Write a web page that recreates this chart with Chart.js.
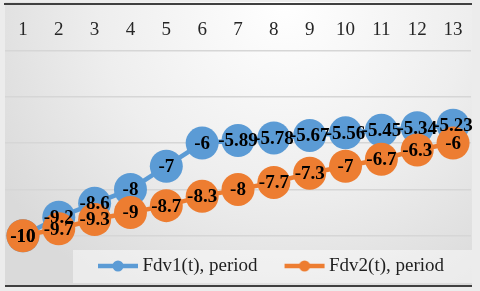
<!DOCTYPE html>
<html><head><meta charset="utf-8">
<script src="https://cdn.jsdelivr.net/npm/chart.js@4.4.0/dist/chart.umd.min.js"></script>
<style>html,body{margin:0;padding:0;background:#ececec;}#wrap{width:480px;height:291px;}</style>
</head><body><div id="wrap"><canvas id="c" width="480" height="291"></canvas></div>
<script>
const periods = ['1','2','3','4','5','6','7','8','9','10','11','12','13'];
const fdv1 = [-10, -9.2, -8.6, -8, -7, -6, -5.89, -5.78, -5.67, -5.56, -5.45, -5.34, -5.23];
const fdv2 = [-10, -9.7, -9.3, -9, -8.7, -8.3, -8, -7.7, -7.3, -7, -6.7, -6.3, -6];
const seriesNames = ['Fdv1(t), period', 'Fdv2(t), period'];
const yTicks = [-10, -8, -6, -4, -2, 0];

const BLUE = '#5B9BD5', ORANGE = '#ED7D31';
const SERIF = '"Liberation Serif", "Times New Roman", serif';

function makeIcon(color) {
  const c = document.createElement('canvas');
  c.width = 68; c.height = 14;
  const g = c.getContext('2d');
  g.strokeStyle = color; g.lineWidth = 4.5; g.lineCap = 'butt';
  g.beginPath(); g.moveTo(26, 7); g.lineTo(66, 7); g.stroke();
  g.fillStyle = color; g.beginPath(); g.arc(46, 7, 5.5, 0, Math.PI * 2); g.fill();
  return c;
}
const icons = [makeIcon(BLUE), makeIcon(ORANGE)];

const bgPlugin = {
  id: 'bg',
  afterLayout(chart) {
    const lg = chart.legend;
    lg.left = chart.chartArea.left + 66;
    lg.right = lg.left + lg.width;
  },
  beforeDraw(chart) {
    const {ctx, chartArea: a, legend: lg} = chart;
    ctx.save();
    ctx.fillStyle = '#ececec';
    ctx.fillRect(0, 0, chart.width, chart.height);
    const top = a.top - 2, bottom = lg.bottom + 1;
    const cx = a.left + a.width * 0.6;
    const g = ctx.createRadialGradient(cx, a.top, 0, cx, a.top, a.width * 0.72);
    g.addColorStop(0, '#ffffff');
    g.addColorStop(0.55, '#eeeeee');
    g.addColorStop(1, '#dadada');
    ctx.fillStyle = g;
    ctx.fillRect(a.left, top, a.width + 1, bottom - top);
    ctx.fillStyle = 'rgba(255,255,255,0.45)';
    ctx.fillRect(lg.left + 2, lg.top + 1.5, a.right + 1 - (lg.left + 2), lg.height - 4);
    ctx.strokeStyle = '#404040';
    ctx.lineWidth = 2;
    ctx.beginPath();
    ctx.moveTo(a.left, lg.bottom + 0.5);
    ctx.lineTo(a.right + 1, lg.bottom + 0.5);
    ctx.stroke();
    ctx.restore();
  }
};

const labelPlugin = {
  id: 'vlabels',
  afterDatasetsDraw(chart) {
    const ctx = chart.ctx;
    ctx.save();
    ctx.font = 'bold 19px ' + SERIF;
    ctx.fillStyle = '#000000';
    ctx.textAlign = 'center';
    ctx.textBaseline = 'middle';
    chart.data.datasets.forEach((ds, i) => {
      const meta = chart.getDatasetMeta(i);
      meta.data.forEach((pt, j) => {
        ctx.fillText(String(ds.data[j]), pt.x, pt.y + 1);
      });
    });
    ctx.restore();
  }
};

new Chart(document.getElementById('c'), {
  type: 'line',
  data: {
    labels: periods,
    datasets: [
      {label: seriesNames[0], data: fdv1, borderColor: BLUE, backgroundColor: BLUE,
       pointBackgroundColor: BLUE, pointBorderColor: BLUE, order: 1},
      {label: seriesNames[1], data: fdv2, borderColor: ORANGE, backgroundColor: ORANGE,
       pointBackgroundColor: ORANGE, pointBorderColor: ORANGE, order: 0}
    ]
  },
  options: {
    responsive: false,
    animation: false,
    layout: {autoPadding: false, padding: {left: 5, right: 9, top: 4, bottom: 5.5}},
    elements: {
      line: {borderWidth: 4.5, tension: 0},
      point: {radius: 16.5, hoverRadius: 16.5, borderWidth: 0}
    },
    datasets: {line: {clip: false}},
    scales: {
      x: {
        position: {y: 0},
        offset: true,
        grid: {display: false},
        border: {display: true, color: '#404040', width: 2},
        ticks: {padding: 7, color: '#262626', font: {family: SERIF, size: 19},
                maxRotation: 0, autoSkip: false}
      },
      y: {
        min: -10.55, max: 0,
        afterBuildTicks: s => { s.ticks = yTicks.map(v => ({value: v})); },
        ticks: {display: false},
        grid: {drawTicks: false, lineWidth: 1.5,
               color: c => (c.tick && c.tick.value === 0) ? 'rgba(0,0,0,0)' : '#d6d6d6'},
        border: {display: false}
      }
    },
    plugins: {
      tooltip: {enabled: false},
      legend: {
        position: 'bottom',
        align: 'start',
        labels: {
          usePointStyle: true,
          pointStyleWidth: 54,
          padding: 8,
          color: '#1f1f1f',
          font: {family: SERIF, size: 19},
          generateLabels: chart => {
            const items = Chart.defaults.plugins.legend.labels.generateLabels(chart);
            items.sort((a, b) => a.datasetIndex - b.datasetIndex);
            items.forEach(it => { it.pointStyle = icons[it.datasetIndex]; });
            return items;
          }
        }
      }
    }
  },
  plugins: [bgPlugin, labelPlugin]
});
</script>
</body></html>
